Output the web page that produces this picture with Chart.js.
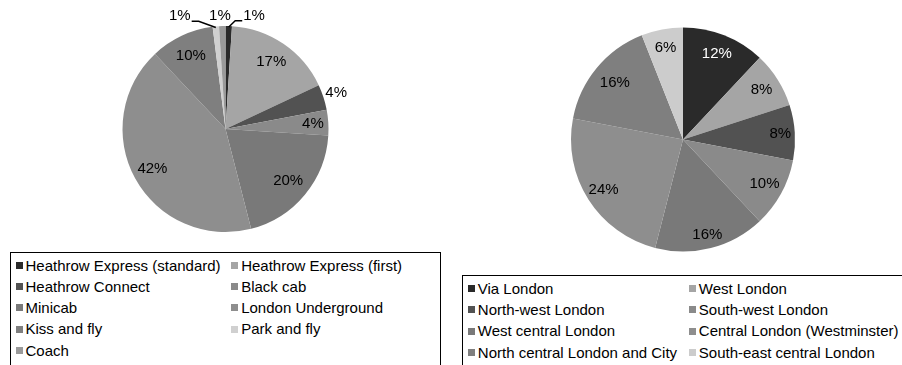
<!DOCTYPE html>
<html>
<head>
<meta charset="utf-8">
<script src="https://cdn.jsdelivr.net/npm/chart.js@4.4.1/dist/chart.umd.min.js"></script>
<style>
    body {
        margin: 0;
        width: 902px;
        height: 365px;
        overflow: hidden;
        position: relative;
        background: #fff;
        font-family: "Liberation Sans", Arial, sans-serif;
    }
    canvas { position: absolute; top: 0; }
    #access-chart { left: 0; }
    #origin-chart { left: 455px; }
    .legend {
        position: absolute;
        box-sizing: border-box;
        border: 1.5px solid #000;
        display: grid;
        grid-auto-rows: 21.33px;
        align-content: start;
        font-size: 15px;
        line-height: 21.33px;
        color: #000;
        white-space: nowrap;
    }
    #access-legend {
        left: 10px; top: 252px; width: 431px; height: 130px;
        padding: 1.5px 0 0 4.5px;
        grid-template-columns: 215.7px auto;
    }
    #origin-legend {
        left: 462px; top: 275px; width: 460px; height: 110px;
        padding: 1.8px 0 0 4.8px;
        grid-template-columns: 221px auto;
    }
    .legend-item { display: flex; align-items: center; height: 21.33px; }
    .legend-item .swatch { width: 7px; height: 7px; margin-right: 3px; flex: none; }
</style>
</head>
<body>
<canvas id="access-chart" width="450" height="250"></canvas>
<canvas id="origin-chart" width="447" height="272"></canvas>
<div id="access-legend" class="legend"></div>
<div id="origin-legend" class="legend"></div>

<script>
// Mode of transport to the airport (share of passengers, %)
const accessModes = [
    'Heathrow Express (standard)', 'Heathrow Express (first)', 'Heathrow Connect',
    'Black cab', 'Minicab', 'London Underground', 'Kiss and fly', 'Park and fly', 'Coach'
];
const accessShare = [1, 17, 4, 4, 20, 42, 10, 1, 1];
const accessColors = ['#2a2a2a', '#a5a5a5', '#525252', '#8a8a8a', '#797979', '#8e8e8e', '#7f7f7f', '#d0d0d0', '#9a9a9a'];

// Origin of trips within London (share, %)
const originAreas = [
    'Via London', 'West London', 'North-west London', 'South-west London',
    'West central London', 'Central London (Westminster)', 'North central London and City',
    'South-east central London'
];
const originShare = [12, 8, 8, 10, 16, 24, 16, 6];
const originColors = ['#2a2a2a', '#a5a5a5', '#525252', '#8a8a8a', '#797979', '#8e8e8e', '#7f7f7f', '#cccccc'];

const FONT = '15px "Liberation Sans", Arial, sans-serif';

// percentage labels placed along each slice's mid angle
const sliceLabels = {
    id: 'sliceLabels',
    afterDatasetsDraw(chart, args, opts) {
        const { ctx } = chart;
        const values = chart.data.datasets[0].data;
        const meta = chart.getDatasetMeta(0);
        ctx.save();
        ctx.font = FONT;
        ctx.textAlign = 'center';
        ctx.textBaseline = 'middle';
        meta.data.forEach((arc, i) => {
            const { x, y, startAngle, endAngle, outerRadius } =
                arc.getProps(['x', 'y', 'startAngle', 'endAngle', 'outerRadius'], true);
            const mid = (startAngle + endAngle) / 2;
            const k = opts.radius[i];
            const nudge = (opts.nudge && opts.nudge[i]) || [0, 0];
            const lx = x + Math.cos(mid) * outerRadius * k + nudge[0];
            const ly = y + Math.sin(mid) * outerRadius * k + nudge[1];
            const text = values[i] + '%';

            if (opts.leader && opts.leader[i]) {
                const half = ctx.measureText(text).width / 2;
                const ex = x + Math.cos(mid) * outerRadius;
                const ey = y + Math.sin(mid) * outerRadius + 1;
                const dir = ex > lx ? 1 : -1;
                const sx = lx + dir * (half + 1);
                ctx.beginPath();
                ctx.moveTo(sx, ly + 5);
                ctx.lineTo(sx + dir * 7, ly + 5);
                ctx.lineTo(ex, ey);
                ctx.strokeStyle = '#000';
                ctx.lineWidth = 1.5;
                ctx.stroke();
            }
            ctx.fillStyle = (opts.color && opts.color[i]) || '#000';
            ctx.fillText(text, lx, ly);
        });
        ctx.restore();
    }
};

function makePie(canvasId, labels, values, colors, padding, labelOpts) {
    return new Chart(document.getElementById(canvasId), {
        type: 'pie',
        data: {
            labels: labels,
            datasets: [{
                data: values,
                backgroundColor: colors,
                borderWidth: 0
            }]
        },
        options: {
            responsive: false,
            animation: false,
            layout: { padding: padding },
            plugins: {
                legend: { display: false },
                tooltip: { enabled: false },
                sliceLabels: labelOpts
            }
        },
        plugins: [sliceLabels]
    });
}

function buildLegend(elId, labels, colors) {
    const el = document.getElementById(elId);
    el.innerHTML = labels.map((name, i) =>
        `<div class="legend-item"><span class="swatch" style="background:${colors[i]}"></span>${name}</div>`
    ).join('');
}

makePie('access-chart', accessModes, accessShare, accessColors,
    { left: 122.5, right: 121.5, top: 26, bottom: 18 },
    {
        radius: [1.1, 0.79, 1.13, 0.85, 0.79, 0.81, 0.79, 1.1, 1.1],
        nudge: [[25, 0], null, null, null, null, null, null, [-35, 0], [-2, 0]],
        leader: [true, false, false, false, false, false, false, true, false]
    });

makePie('origin-chart', originAreas, originShare, originColors,
    { left: 116, right: 107, top: 27.5, bottom: 20.5 },
    {
        radius: [0.82, 0.83, 0.87, 0.83, 0.875, 0.84, 0.79, 0.83],
        color: ['#fff']
    });

buildLegend('access-legend', accessModes, accessColors);
buildLegend('origin-legend', originAreas, originColors);
</script>
</body>
</html>
